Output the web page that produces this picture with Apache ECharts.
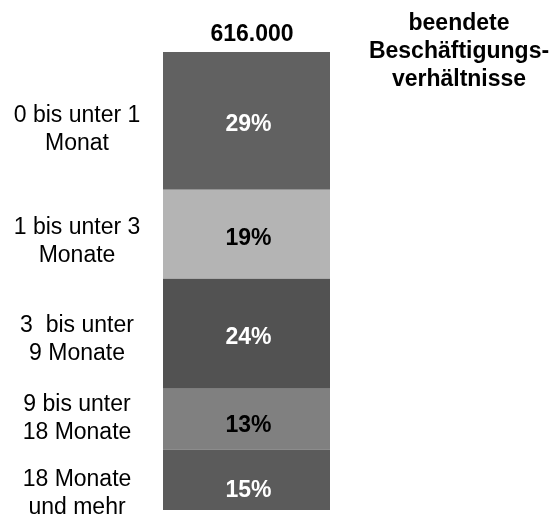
<!DOCTYPE html>
<html>
<head>
<meta charset="utf-8">
<title>beendete Beschäftigungsverhältnisse</title>
<script src="https://cdn.jsdelivr.net/npm/echarts@6/dist/echarts.min.js"></script>
<style>
  html, body { margin: 0; padding: 0; background: #fff; }
  #main { width: 557px; height: 517px; }
</style>
</head>
<body>
<div id="main"></div>
<script>
// Dauer der beendeten Beschäftigungsverhältnisse
var categories = ['0 bis unter 1\nMonat', '1 bis unter 3\nMonate', '3  bis unter\n9 Monate', '9 bis unter\n18 Monate', '18 Monate\nund mehr'];
// Segmenthöhen wie im Bild gemessen (Anteil am Balken)
var barShare = [30.1, 19.4, 24.0, 13.3, 13.2];
// Beschriftung der Segmente
var shareLabels = ['29%', '19%', '24%', '13%', '15%'];
var total = '616.000';

// Aussehen
var segColors = ['#616161', '#b4b4b4', '#525252', '#808080', '#5b5b5b'];
var labelColors = ['#fff', '#000', '#fff', '#000', '#fff'];
var catShiftY = [9, 7, 6, 0, 14];
var pctShiftY = [4, 4, 4, 7, 11];
var FONT = 'Liberation Sans, Arial, sans-serif';

var series = [];
for (var i = 0; i < barShare.length; i++) {
  // sichtbares Segment mit Prozentwert
  series.push({
    name: categories[i],
    type: 'bar',
    stack: 'seg',
    barWidth: 167,
    data: [barShare[i]],
    itemStyle: { color: segColors[i] },
    label: {
      show: true,
      position: 'inside',
      offset: [2, pctShiftY[i]],
      formatter: shareLabels[i],
      color: labelColors[i],
      fontFamily: FONT,
      fontWeight: 'bold',
      fontSize: 23
    },
    silent: true
  });
  // unsichtbares Segment für die Beschriftung links
  series.push({
    name: categories[i] + '_lbl',
    type: 'bar',
    stack: 'lbl',
    barWidth: 167,
    barGap: '-100%',
    data: [barShare[i]],
    itemStyle: { color: 'rgba(0,0,0,0)' },
    label: {
      show: true,
      position: 'left',
      distance: 86,
      offset: [0, catShiftY[i]],
      formatter: categories[i],
      align: 'center',
      color: '#000',
      fontFamily: FONT,
      fontSize: 23,
      lineHeight: 28
    },
    silent: true
  });
}

var chart = echarts.init(document.getElementById('main'));
chart.setOption({
  animation: false,
  title: [{
    text: total,
    left: 247,
    top: 18,
    textAlign: 'center',
    textStyle: { fontFamily: FONT, fontWeight: 'bold', fontSize: 23, color: '#000' }
  }, {
    text: 'beendete\nBeschäftigungs-\nverhältnisse',
    left: 454,
    top: 5,
    textAlign: 'center',
    textStyle: { fontFamily: FONT, fontWeight: 'bold', fontSize: 23, lineHeight: 28, color: '#000' }
  }],
  grid: { left: 163, right: 227, top: 52, bottom: 7 },
  xAxis: {
    type: 'category',
    data: [''],
    show: false
  },
  yAxis: {
    type: 'value',
    min: 0,
    max: 100,
    inverse: true,
    show: false
  },
  series: series
});
</script>
</body>
</html>
